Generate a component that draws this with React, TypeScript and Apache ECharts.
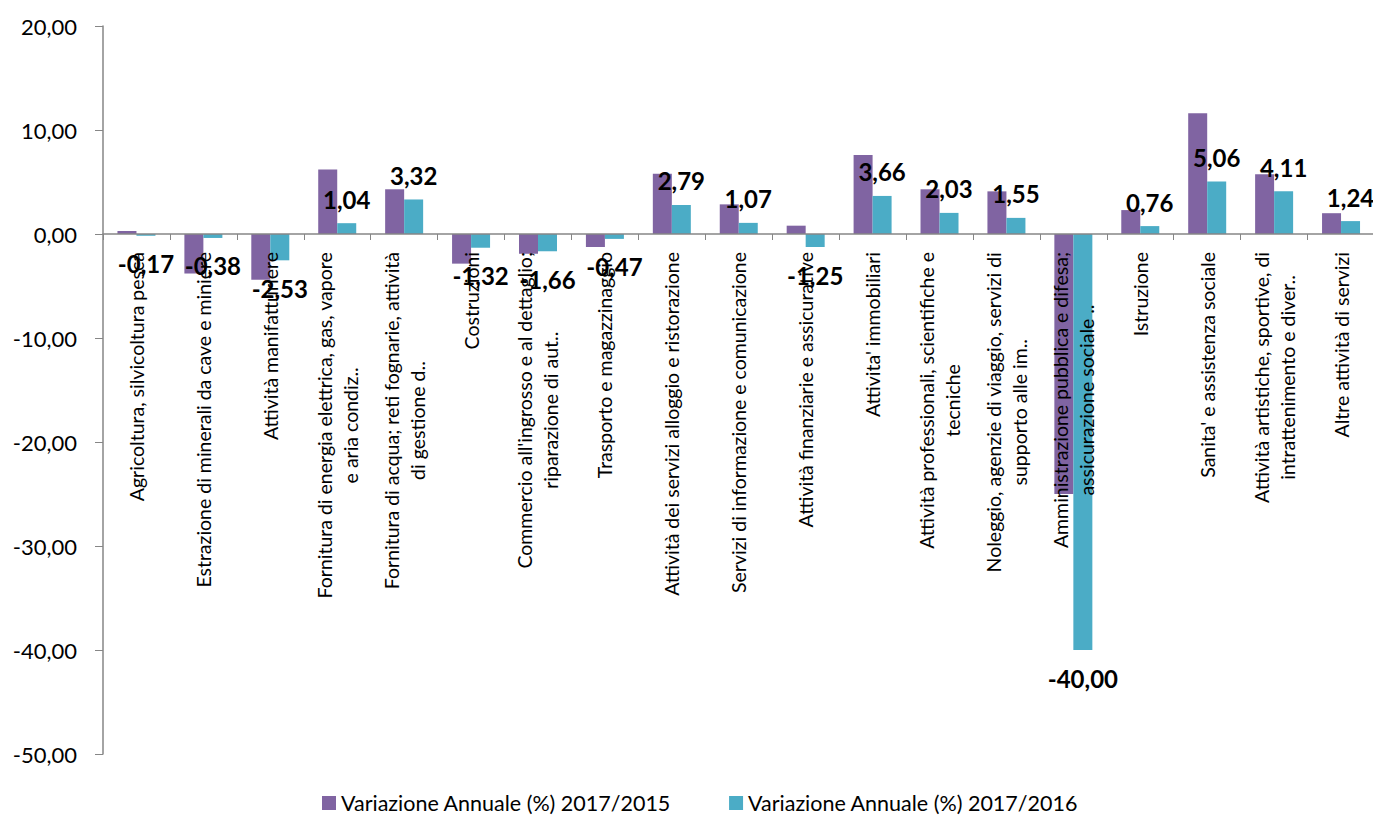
import React, { useEffect, useRef } from "react";
import * as echarts from "echarts";

const categories: string[] = [
  "Agricoltura, silvicoltura pesca",
  "Estrazione di minerali da cave e miniere",
  "Attività manifatturiere",
  "Fornitura di energia elettrica, gas, vapore\ne aria condiz..",
  "Fornitura di acqua; reti fognarie, attività\ndi gestione d..",
  "Costruzioni",
  "Commercio all'ingrosso e al dettaglio;\nriparazione di aut..",
  "Trasporto e magazzinaggio",
  "Attività dei servizi alloggio e ristorazione",
  "Servizi di informazione e comunicazione",
  "Attività finanziarie e assicurative",
  "Attivita' immobiliari",
  "Attività professionali, scientifiche e\ntecniche",
  "Noleggio, agenzie di viaggio, servizi di\nsupporto alle im..",
  "Amministrazione pubblica e difesa;\nassicurazione sociale ..",
  "Istruzione",
  "Sanita' e assistenza sociale",
  "Attività artistiche, sportive, di\nintrattenimento e diver..",
  "Altre attività di servizi",
];

const seriesNames: string[] = [
  "Variazione Annuale (%) 2017/2015",
  "Variazione Annuale (%) 2017/2016",
];

const var2015: number[] = [
  0.3, -3.8, -4.4, 6.2, 4.3, -2.85, -1.9, -1.25, 5.8, 2.85, 0.8, 7.6, 4.3, 4.1,
  -25.0, 2.3, 11.6, 5.75, 2.0,
];

const var2016: number[] = [
  -0.17, -0.38, -2.53, 1.04, 3.32, -1.32, -1.66, -0.47, 2.79, 1.07, -1.25,
  3.66, 2.03, 1.55, -40.0, 0.76, 5.06, 4.11, 1.24,
];

const yMin = -50;
const yMax = 20;
const yInterval = 10;

const FONT = "Lato";
const fmt = (v: number) => v.toFixed(2).replace(".", ",");

const GRID_TOP = 26;
const GRID_BOTTOM = 62;
const CHART_H = 816;

export default function App() {
  const ref = useRef<HTMLDivElement>(null);

  useEffect(() => {
    if (!ref.current) return;
    const chart = echarts.init(ref.current, null, { renderer: "svg" });

    const gridH = CHART_H - GRID_TOP - GRID_BOTTOM;
    // move the category axis from the grid bottom up to the zero line
    const zeroOffset = -((0 - yMin) / (yMax - yMin)) * gridH;

    const labelData = var2016.map((v) => ({
      value: v,
      label: {
        position: v >= 0 ? "top" : "bottom",
        distance: v >= 0 ? 12 : 16,
      },
    }));

    chart.setOption({
      animation: false,
      textStyle: { fontFamily: FONT },
      grid: {
        left: 103,
        top: GRID_TOP,
        width: 1271.5,
        bottom: GRID_BOTTOM,
        containLabel: false,
        outerBoundsMode: "none",
      },
      legend: {
        data: seriesNames,
        left: 317,
        top: 787,
        itemWidth: 14,
        itemHeight: 14,
        itemGap: 58,
        icon: "rect",
        textStyle: { fontFamily: FONT, fontSize: 21.5, color: "#000" },
      },
      xAxis: [
        {
          type: "category",
          data: categories,
          position: "bottom",
          offset: zeroOffset,
          z: 3,
          axisLine: { onZero: false, lineStyle: { color: "#868686", width: 1.5 } },
          axisTick: { show: true, length: 6, lineStyle: { color: "#868686" } },
          axisLabel: {
            interval: 0,
            rotate: 90,
            margin: 18,
            color: "#000",
            formatter: (s: string) =>
              s
                .split("\n")
                .map((l) => `{c|${l}}`)
                .join("\n"),
            rich: {
              c: {
                align: "center",
                fontFamily: FONT,
                fontSize: 19.5,
                lineHeight: 26,
                color: "#000",
              },
            },
          },
          splitLine: { show: false },
        },
        {
          type: "category",
          data: categories,
          position: "top",
          show: false,
        },
      ],
      yAxis: {
        type: "value",
        min: yMin,
        max: yMax,
        interval: yInterval,
        axisLine: { show: true, lineStyle: { color: "#868686", width: 1.5 } },
        axisTick: { show: true, length: 8, lineStyle: { color: "#868686" } },
        axisLabel: {
          margin: 26,
          color: "#000",
          fontFamily: FONT,
          fontSize: 22,
          formatter: (v: number) => fmt(v),
        },
        splitLine: { show: false },
      },
      series: [
        {
          name: seriesNames[0],
          type: "bar",
          data: var2015,
          barWidth: 19,
          barGap: "0%",
          itemStyle: { color: "#8064A2" },
          z: 2,
        },
        {
          name: seriesNames[1],
          type: "bar",
          data: var2016,
          barWidth: 19,
          barGap: "0%",
          itemStyle: { color: "#4BACC6" },
          z: 2,
        },
        {
          name: "_spacer",
          type: "bar",
          xAxisIndex: 1,
          data: var2015,
          barWidth: 19,
          barGap: "0%",
          itemStyle: { color: "rgba(0,0,0,0)" },
          silent: true,
          z: 5,
        },
        {
          name: "_labels",
          type: "bar",
          xAxisIndex: 1,
          data: labelData,
          barWidth: 19,
          barGap: "0%",
          itemStyle: { color: "rgba(0,0,0,0)" },
          silent: true,
          z: 5,
          label: {
            show: true,
            color: "#000",
            fontFamily: FONT,
            fontWeight: "bold",
            fontSize: 24,
            formatter: (p: any) => fmt(p.value),
          },
        },
      ],
    });

    return () => chart.dispose();
  }, []);

  return (
    <div
      ref={ref}
      style={{ position: "fixed", left: 0, top: 0, width: 1373, height: 816, background: "#fff" }}
    />
  );
}
